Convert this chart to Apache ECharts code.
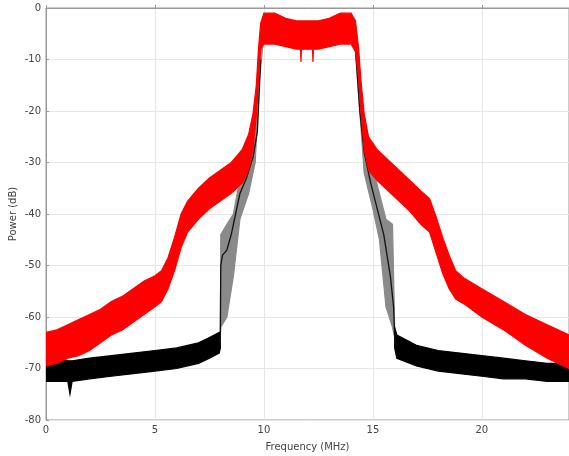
<!DOCTYPE html>
<html><head><meta charset="utf-8">
<script src="https://cdn.jsdelivr.net/npm/echarts@6/dist/echarts.min.js"></script>
<style>html,body{margin:0;padding:0;background:#fff}#c{width:569px;height:456px}</style>
</head><body><div id="c"></div>
<script>
// Red spectrum band: frequency (MHz), lower and upper envelope (dB)
const redFreq = [0,0.5,1,1.5,2,2.5,3,3.5,4,4.5,5,5.3,5.6,5.9,6.2,6.5,7,7.5,8,8.5,9,9.3,9.5,9.65,9.75,9.85,10,10.5,11,11.5,11.68,11.7,11.72,12,12.23,12.25,12.27,12.5,13,13.5,14,14.2,14.35,14.45,14.6,14.8,15.2,15.7,16.2,16.7,17.2,17.6,17.9,18.2,18.5,18.8,19.2,20,21,22,23,24];
const redLow  = [-69.5,-69,-68,-67.5,-66.5,-65,-63.5,-62.5,-61,-59.5,-58,-57,-54.5,-51,-46.5,-43.5,-41,-39,-37.5,-36,-34,-31.5,-27.5,-21,-14,-8,-7,-7,-7.5,-8,-8,-10.5,-8,-8,-8,-10.5,-8,-8,-7.5,-7,-7,-8.5,-14,-20,-27.5,-31.5,-33.5,-35.5,-37.5,-39.5,-42,-43.5,-47.5,-51.5,-54.5,-56.5,-57.5,-60,-62.5,-65.5,-68,-70];
const redHigh = [-63,-62.5,-61.5,-60.5,-59.5,-58.5,-57,-56,-54.5,-53,-52,-51,-48.5,-44.5,-40,-37.5,-35,-33,-31.5,-30,-27.5,-24.5,-20.5,-15,-8,-3,-1,-1,-2,-2.5,-2.5,-2.5,-2.5,-2.5,-2.5,-2.5,-2.5,-2.5,-2,-1,-1,-2.5,-8,-14,-20.5,-25,-27.5,-29.5,-31.5,-33.5,-35.5,-37,-40.5,-44.5,-48,-51,-52.5,-54.5,-57,-59.5,-61.5,-63.5];

// Black spectrum: noise floor bands (dB), left and right of the passband
const blackLeftFreq = [0,0.5,1,1.1,1.2,2,3,4,5,6,7,7.5,7.95,8.0];
const blackLeftLow  = [-72.5,-72.5,-72.5,-75,-72.5,-72,-71.5,-71,-70.5,-70,-69,-68,-67,-66];
const blackLeftHigh = [-67.5,-68,-68.5,-68.5,-68.5,-68,-67.5,-67,-66.5,-66,-65,-64,-63,-63];
const blackRightFreq = [16.0,16.1,17,18,19,20,21,22,23,24];
const blackRightLow  = [-66,-68,-69.5,-70.5,-71,-71.5,-72,-72,-72.5,-72.5];
const blackRightHigh = [-62,-63.5,-65.5,-66.5,-67,-67.5,-68,-68.5,-69,-69];
// Black spectrum: filter-edge bands (grey spread) and passband
const blackEdgeFreq = [8.0,8.02,8.3,8.6,8.9,9.3,9.6,9.8,10,11,12,13,14,14.2,14.4,14.6,15.0,15.3,15.6,15.9,16.0];
const blackEdgeLow  = [-64,-62,-60,-52,-41,-36,-30,-14,-5,-5.5,-6,-5.5,-5,-8,-20,-32,-39,-45,-58,-62,-64];
const blackEdgeHigh = [-63,-44,-42,-40,-33,-29,-25,-8,-3,-3.5,-4,-3.5,-3,-3,-12,-25,-31,-36,-41,-42,-62];
// Black spectrum: dense core trace along the filter edges
const blackCoreLeftFreq = [7.95,8.0,8.02,8.1,8.3,8.5,8.7,8.9,9.2,9.5,9.7,9.85];
const blackCoreLeftDb   = [-65,-64,-50,-48,-47,-44,-40,-36,-33,-29,-24,-10];
const blackCoreRightFreq = [14.2,14.4,14.6,14.9,15.2,15.5,15.8,15.95,16.0,16.1];
const blackCoreRightDb   = [-8,-20,-28,-34,-39,-44,-52,-58,-64,-65.5];

// Axis ticks
const xTicks = [0,5,10,15,20];
const yTicks = [0,-10,-20,-30,-40,-50,-60,-70,-80];

function bandSeries(name, freq, low, high, color, z) {
  return {
    type: 'custom',
    name: name,
    coordinateSystem: 'cartesian2d',
    clip: true,
    z: z,
    data: [[freq[0], low[0]]],
    renderItem: function (params, api) {
      const pts = [];
      for (let i = 0; i < freq.length; i++) pts.push(api.coord([freq[i], high[i]]));
      for (let i = freq.length - 1; i >= 0; i--) pts.push(api.coord([freq[i], low[i]]));
      return {
        type: 'polygon',
        shape: { points: pts },
        style: { fill: color, stroke: color, lineWidth: 1.2 }
      };
    }
  };
}
function lineSeries(name, freq, db, color, z) {
  return {
    type: 'line', name: name, z: z, symbol: 'none', clip: true,
    data: freq.map((f, i) => [f, db[i]]),
    lineStyle: { color: color, width: 1.3 }
  };
}

const chart = echarts.init(document.getElementById('c'), null, { renderer: 'canvas' });
const axisFont = { fontFamily: 'DejaVu Sans, sans-serif', fontSize: 10, color: '#444' };
chart.setOption({
  animation: false,
  backgroundColor: '#fff',
  grid: { left: 46, right: 0, top: 8, bottom: 36, containLabel: false, outerBoundsMode: 'none',
          show: true, borderColor: '#999', borderWidth: 1 },
  xAxis: {
    type: 'value', min: 0, max: 24, interval: 5,
    name: 'Frequency (MHz)', nameLocation: 'middle', nameGap: 22, nameMoveOverlap: false,
    nameTextStyle: axisFont,
    axisLine: { lineStyle: { color: '#999' } },
    axisTick: { inside: true, length: 3, lineStyle: { color: '#999' } },
    axisLabel: Object.assign({ margin: 5, formatter: v => xTicks.includes(v) ? String(v) : '' }, axisFont),
    splitLine: { show: true, lineStyle: { color: '#e6e6e6', width: 1 } }
  },
  yAxis: {
    type: 'value', min: -80, max: 0, interval: 10,
    name: 'Power (dB)', nameLocation: 'middle', nameGap: 28, nameMoveOverlap: false,
    nameTextStyle: axisFont,
    axisLine: { lineStyle: { color: '#999' } },
    axisTick: { inside: true, length: 3, lineStyle: { color: '#999' } },
    axisLabel: Object.assign({ margin: 5, formatter: v => yTicks.includes(v) ? String(v) : '' }, axisFont),
    splitLine: { show: true, lineStyle: { color: '#e6e6e6', width: 1 } }
  },
  series: [
    bandSeries('black edges', blackEdgeFreq, blackEdgeLow, blackEdgeHigh, '#8a8a8a', 2),
    lineSeries('black core L', blackCoreLeftFreq, blackCoreLeftDb, '#111', 3),
    lineSeries('black core R', blackCoreRightFreq, blackCoreRightDb, '#111', 3),
    bandSeries('black floor L', blackLeftFreq, blackLeftLow, blackLeftHigh, '#000000', 3),
    bandSeries('black floor R', blackRightFreq, blackRightLow, blackRightHigh, '#000000', 3),
    bandSeries('red', redFreq, redLow, redHigh, '#ff0000', 4)
  ]
});
</script>
</body></html>
